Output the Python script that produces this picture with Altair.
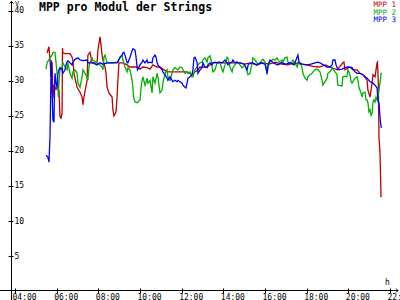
import altair as alt
import pandas as pd

series_names = ["MPP 1", "MPP 2", "MPP 3"]
series_colors = ["#c00000", "#00b000", "#0000ff"]

# (hour of day, volts)
mpp1 = [(5.54,34.0),(5.63,34.9),(5.68,33.0),(5.73,30.6),(5.78,32.7),(5.82,27.5),(5.87,29.5),(5.97,28.8),
        (6.06,29.0),(6.11,28.7),(6.16,24.9),(6.21,24.7),(6.26,25.5),(6.28,34.7),(6.30,34.0),(6.40,33.9),
        (6.64,33.9),(6.74,33.4),(6.78,33.0),(6.83,31.1),(6.98,29.1),(7.12,28.4),(7.22,27.7),(7.26,26.6),
        (7.31,27.7),(7.46,30.1),(7.50,33.7),(7.60,34.1),(7.70,32.6),(7.94,32.6),(7.98,34.4),(8.08,36.3),
        (8.13,35.1),(8.18,33.7),(8.22,33.0),(8.32,32.0),(8.37,31.1),(8.42,29.1),(8.51,28.3),(8.66,27.7),
        (8.70,25.9),(8.75,25.0),(8.85,25.6),(8.90,27.7),(8.94,30.1),(8.99,32.6),(9.18,32.6),(9.38,32.3),
        (9.52,32.0),(9.86,32.0),(10.00,31.7),(10.14,32.0),(10.34,31.9),(10.48,31.7),(10.62,32.3),(10.82,32.0),
        (10.96,32.0),(11.10,31.7),(11.30,31.3),(11.58,31.3),(11.92,31.3),(12.26,31.3),(12.40,31.1),(12.50,30.9),
        (12.64,31.3),(12.78,31.6),(12.88,32.0),(13.02,32.0),(13.22,32.0),(13.50,32.6),(13.84,32.6),(14.18,32.6),
        (14.46,32.6),(14.80,32.6),(15.0,32.4),(15.3,32.6),(15.6,32.3),(15.9,32.6),(16.2,32.4),(16.5,32.7),
        (16.8,32.4),(17.1,32.3),(17.4,32.6),(17.7,32.4),(18.0,32.3),(18.3,32.1),(18.6,32.0),(18.9,32.3),
        (19.12,32.0),(19.46,31.6),(19.74,32.6),(19.79,32.7),(19.84,31.6),(20.08,32.0),(20.22,31.6),(20.42,31.6),
        (20.56,31.1),(20.70,30.9),(20.90,30.1),(20.94,28.7),(21.04,27.7),(21.14,29.7),(21.18,30.9),(21.28,30.6),
        (21.38,32.6),(21.40,32.7),(21.44,29.7),(21.47,22.0),(21.52,19.7),(21.57,13.4)]

mpp2 = [(5.49,31.7),(5.54,32.6),(5.68,33.3),(5.78,33.7),(5.82,34.1),(5.92,34.1),(5.97,32.6),(6.02,31.1),
        (6.06,29.4),(6.08,27.7),(6.11,29.7),(6.16,31.6),(6.26,32.0),(6.30,32.6),(6.40,32.0),(6.50,31.6),
        (6.54,32.6),(6.64,31.1),(6.74,30.4),(6.78,31.3),(6.88,31.6),(6.98,31.1),(7.02,29.7),(7.12,29.1),
        (7.22,30.6),(7.26,31.6),(7.36,31.1),(7.46,30.6),(7.50,30.1),(7.55,32.0),(7.60,32.7),(7.70,33.3),
        (7.74,33.0),(7.94,32.6),(8.08,32.3),(8.18,32.0),(8.22,31.6),(8.27,33.4),(8.32,33.7),(8.42,32.6),
        (8.56,32.6),(8.70,32.6),(8.90,32.7),(9.04,33.3),(9.14,33.7),(9.18,33.0),(9.28,32.0),(9.38,31.3),
        (9.42,31.9),(9.52,31.6),(9.62,30.1),(9.66,29.0),(9.69,27.7),(9.76,27.0),(9.86,26.9),(9.90,27.0),
        (10.00,27.3),(10.05,29.0),(10.10,30.1),(10.14,30.6),(10.24,29.4),(10.34,30.4),(10.38,29.7),(10.48,30.1),
        (10.58,28.3),(10.62,30.6),(10.72,29.7),(10.82,31.1),(10.86,30.6),(10.96,28.3),(11.06,28.7),(11.10,29.7),
        (11.20,31.1),(11.30,31.6),(11.34,30.6),(11.44,30.1),(11.54,31.1),(11.58,31.6),(11.68,31.9),(11.82,31.6),
        (11.92,32.0),(12.02,31.9),(12.06,31.6),(12.16,31.1),(12.26,31.3),(12.30,31.1),(12.40,31.3),(12.50,30.6),
        (12.54,30.6),(12.64,31.6),(12.74,32.0),(12.78,32.3),(12.88,32.6),(12.98,32.7),(13.02,33.0),(13.12,33.3),
        (13.22,32.7),(13.26,33.3),(13.36,33.6),(13.41,33.0),(13.46,32.0),(13.50,31.3),(13.60,31.6),(13.70,32.6),
        (13.74,32.7),(13.84,32.6),(13.94,31.6),(13.98,31.3),(14.08,32.3),(14.18,33.4),(14.22,33.3),(14.32,32.0),
        (14.42,31.3),(14.46,31.9),(14.56,32.3),(14.66,32.7),(14.70,32.6),(14.80,32.3),(14.90,31.9),(14.94,32.0),
        (15.04,32.3),(15.14,31.3),(15.18,30.9),(15.28,31.1),(15.38,32.6),(15.42,33.3),(15.52,33.0),(15.62,32.6),
        (15.66,32.3),(15.76,32.6),(15.86,33.0),(15.90,33.1),(16.00,32.7),(16.08,31.6),(16.10,30.9),(16.14,32.0),
        (16.24,32.7),(16.34,33.0),(16.38,33.1),(16.48,33.0),(16.58,33.3),(16.62,33.0),(16.72,32.7),(16.82,33.0),
        (16.86,32.7),(16.96,33.3),(17.06,33.4),(17.10,32.7),(17.20,32.6),(17.30,32.7),(17.34,33.0),(17.44,32.6),
        (17.54,32.0),(17.58,32.7),(17.68,32.6),(17.78,31.9),(17.82,31.1),(17.92,30.4),(18.02,30.1),(18.06,30.6),
        (18.16,30.9),(18.26,31.1),(18.30,31.3),(18.40,31.6),(18.50,31.7),(18.54,31.6),(18.64,31.3),(18.74,30.1),
        (18.78,29.4),(18.88,29.9),(18.98,30.4),(19.02,31.1),(19.12,31.3),(19.22,31.9),(19.36,31.3),(19.46,30.9),
        (19.48,29.7),(19.50,29.4),(19.70,29.3),(19.72,30.1),(19.74,30.6),(19.84,30.7),(19.93,30.6),(19.98,31.6),
        (20.08,30.9),(20.13,29.9),(20.18,29.7),(20.22,29.9),(20.32,30.4),(20.42,30.6),(20.46,30.1),(20.51,29.1),
        (20.61,28.3),(20.66,27.7),(20.70,28.3),(20.80,28.4),(20.85,27.3),(20.90,27.3),(20.94,26.9),(20.99,25.6),
        (21.04,25.9),(21.09,25.1),(21.14,25.4),(21.18,26.9),(21.23,27.3),(21.28,27.0),(21.33,27.7),(21.38,27.3),
        (21.42,27.7),(21.47,28.7),(21.52,29.7),(21.57,31.1),(21.62,31.1)]

mpp3 = [(5.49,19.4),(5.58,19.1),(5.63,18.4),(5.68,22.0),(5.72,29.1),(5.73,33.0),(5.76,31.6),(5.78,28.7),
        (5.82,24.4),(5.87,24.1),(5.90,29.1),(5.92,31.1),(5.97,29.7),(6.02,29.0),(6.06,31.1),(6.11,31.6),
        (6.16,31.9),(6.26,31.6),(6.30,31.1),(6.40,31.6),(6.45,32.3),(6.50,32.7),(6.54,32.9),(6.64,32.6),
        (6.74,32.3),(6.78,32.7),(6.88,33.1),(7.02,33.3),(7.12,33.0),(7.26,32.9),(7.46,33.0),(7.50,32.6),
        (7.60,32.6),(7.74,32.6),(7.94,32.3),(8.08,32.6),(8.22,32.4),(8.42,32.6),(8.56,32.6),(8.70,32.6),
        (8.90,32.6),(8.94,32.7),(9.04,33.4),(9.14,33.7),(9.18,34.0),(9.23,34.1),(9.28,33.7),(9.38,32.6),
        (9.42,32.6),(9.52,33.4),(9.62,34.3),(9.66,34.6),(9.76,34.4),(9.81,33.4),(9.86,32.0),(9.88,31.6),
        (10.00,32.3),(10.10,32.7),(10.14,33.0),(10.24,32.6),(10.34,33.0),(10.38,32.6),(10.48,32.7),(10.58,32.6),
        (10.62,33.3),(10.72,33.7),(10.77,33.4),(10.82,32.6),(10.86,32.3),(10.96,31.9),(11.06,31.6),(11.10,31.3),
        (11.20,30.9),(11.30,30.4),(11.34,30.1),(11.44,30.6),(11.54,30.1),(11.58,29.9),(11.68,30.1),(11.78,29.9),
        (11.82,30.1),(11.92,29.9),(12.02,29.7),(12.06,29.4),(12.16,29.1),(12.21,29.0),(12.26,29.7),(12.30,30.4),
        (12.40,30.6),(12.50,30.9),(12.54,31.6),(12.59,33.3),(12.64,33.4),(12.74,32.7),(12.76,32.0),(12.78,31.1),
        (12.88,31.6),(12.98,31.9),(13.02,32.6),(13.12,32.0),(13.22,31.9),(13.26,32.3),(13.36,32.6),(13.46,32.3),
        (13.50,32.6),(13.60,32.7),(13.70,32.6),(13.84,32.7),(13.94,32.6),(13.98,32.7),(14.08,33.0),(14.18,32.6),
        (14.22,32.3),(14.32,32.6),(14.42,32.7),(14.46,33.0),(14.56,32.6),(14.66,32.7),(14.70,32.6),(14.80,32.6),
        (15.0,32.4),(15.14,31.6),(15.2,32.4),(15.4,32.6),(15.6,32.3),(15.8,32.6),(16.0,32.4),(16.10,31.1),
        (16.15,32.3),(16.24,33.0),(16.4,32.6),(16.6,32.3),(16.8,32.6),(17.0,32.4),(17.2,32.6),(17.4,32.3),
        (17.58,33.7),(17.64,32.6),(17.8,32.4),(18.02,32.3),(18.2,32.4),(18.4,32.6),(18.54,32.7),(18.64,32.6),
        (18.8,32.3),(18.98,32.0),(19.12,32.0),(19.22,32.3),(19.26,33.0),(19.36,33.0),(19.41,32.3),(19.50,31.6),
        (19.70,31.7),(19.84,31.9),(19.98,32.0),(20.18,31.9),(20.32,31.3),(20.42,31.1),(20.56,31.1),(20.70,30.9),
        (20.90,30.4),(21.04,29.9),(21.18,29.7),(21.28,29.4),(21.38,29.0),(21.42,27.3),(21.44,27.0),(21.47,26.9),
        (21.52,24.9),(21.57,23.4),(21.62,23.4)]

x_ticks = [4, 6, 8, 10, 12, 14, 16, 18, 20, 22]
y_ticks = [5, 10, 15, 20, 25, 30, 35, 40]
title_text = "MPP pro Modul der Strings"
y_unit = "V"
x_unit = "h"

rows = []
for name, pts in zip(series_names, [mpp1, mpp2, mpp3]):
    for h, v in pts:
        rows.append({"series": name, "hour": h, "volts": v})
df = pd.DataFrame(rows)

FONT = "DejaVu Sans Mono"
xscale = alt.Scale(domain=[3.28, 22.48], nice=False, zero=False)
yscale = alt.Scale(domain=[-1.2857, 41.5714], nice=False, zero=False)

lines = alt.Chart(df).mark_line(strokeWidth=1.3).encode(
    x=alt.X("hour:Q", scale=xscale,
            axis=alt.Axis(values=x_ticks, orient="bottom", offset=-12, tickSize=5,
                          domain=False, grid=False, title=None, labelAlign="left",
                          labelOffset=-3, labelPadding=0, labelBaseline="top",
                          labelFont=FONT, labelFontSize=8, labelColor="black",
                          tickColor="black", labelFlush=False, labelOverlap=False,
                          labelExpr="(datum.value < 10 ? '0' : '') + datum.value + ':00'")),
    y=alt.Y("volts:Q", scale=yscale,
            axis=alt.Axis(values=y_ticks, orient="left", offset=-13, tickSize=5,
                          domain=False, grid=False, title=None, labelAlign="left",
                          labelPadding=-6, labelFont=FONT, labelFontSize=8,
                          labelColor="black", tickColor="black", labelFlush=False,
                          labelOverlap=False)),
    color=alt.Color("series:N", scale=alt.Scale(domain=series_names, range=series_colors),
                    legend=None),
)

one = pd.DataFrame({"a": [0]})
y_axis_line = alt.Chart(one).mark_rule(color="black", strokeWidth=1).encode(
    x=alt.value(11.5), y=alt.value(1), y2=alt.value(300))
x_axis_line = alt.Chart(one).mark_rule(color="black", strokeWidth=1).encode(
    x=alt.value(0), x2=alt.value(398), y=alt.value(290.5))
y_arrow = alt.Chart(one).mark_point(shape="M-1,1L0,0L1,1", filled=False, size=16,
                                    color="black", strokeWidth=1, opacity=1).encode(
    x=alt.value(11.5), y=alt.value(1.5))
x_arrow = alt.Chart(one).mark_point(shape="M-1,-1L0,0L-1,1", filled=False, size=16,
                                    color="black", strokeWidth=1, opacity=1).encode(
    x=alt.value(398), y=alt.value(290.5))

def label(txt, x, y, color="black", size=8, bold=False, align="left"):
    return alt.Chart(pd.DataFrame({"t": [txt]})).mark_text(
        font=FONT, fontSize=size, fontWeight="bold" if bold else "normal",
        color=color, align=align, baseline="alphabetic").encode(
        text="t:N", x=alt.value(x), y=alt.value(y))

title = label(title_text, 39, 11, size=11.5, bold=True)
v_lab = label(y_unit, 15, 5.5, size=7)
h_lab = label(x_unit, 385, 285, size=8)
legend_layers = [label(n, 396, yb, color=c, size=7.5, align="right")
                 for n, c, yb in zip(series_names, series_colors, [7, 14.5, 22])]

chart = alt.layer(lines, y_axis_line, x_axis_line, y_arrow, x_arrow, title, v_lab, h_lab,
                  *legend_layers).properties(
    width=400, height=300,
    autosize=alt.AutoSizeParams(type="none"),
    padding={"left": 0, "top": 0, "right": 0, "bottom": 0},
    background="white",
).configure_view(strokeWidth=0)

chart.save("out.html", embed_options={"renderer": "svg", "actions": False})
